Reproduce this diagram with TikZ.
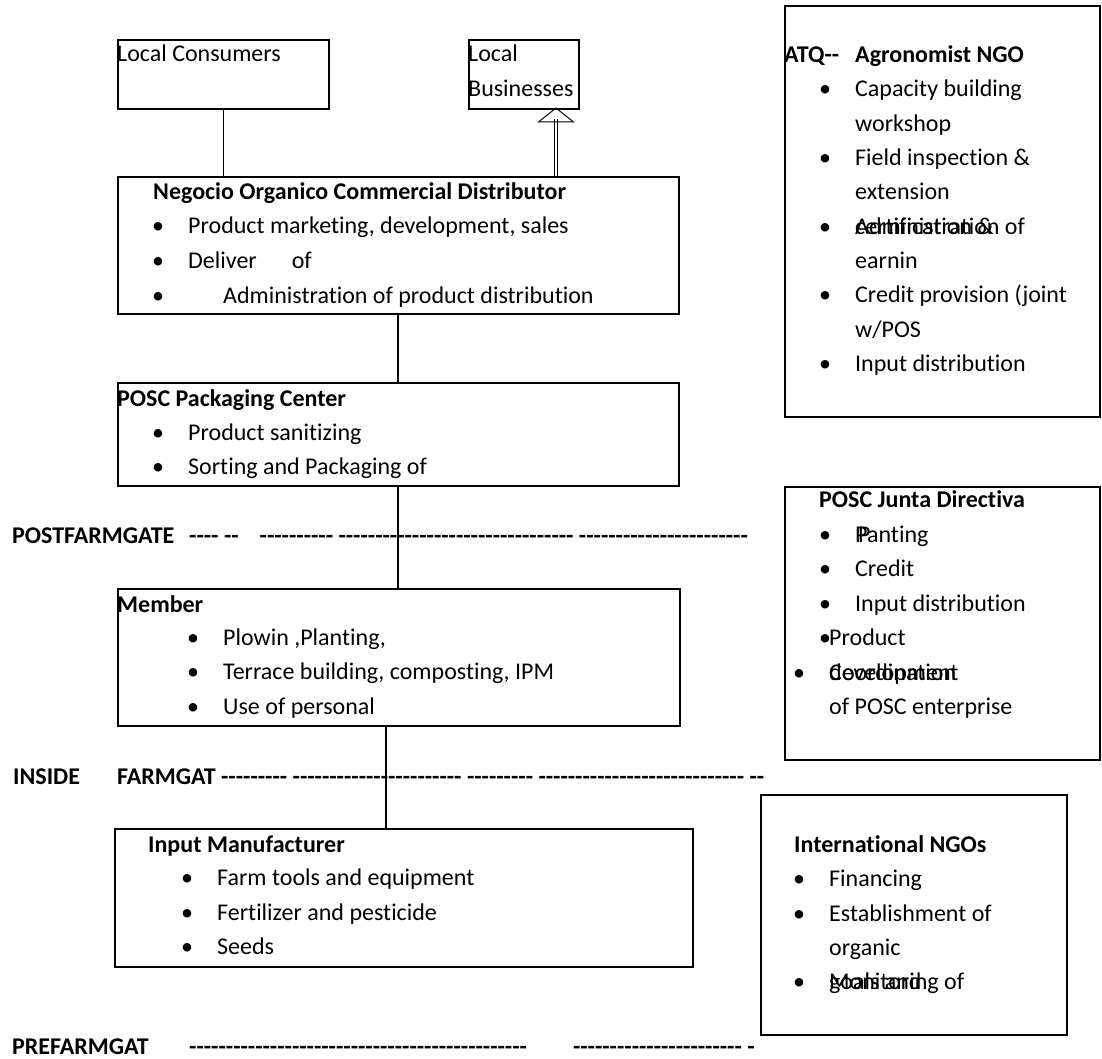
\documentclass[tikz,border=0pt]{standalone}
\usepackage{fontspec}
\newfontfamily\calibri{Carlito}[Ligatures=NoCommon]
\newcommand{\bl}{\llap{\makebox[36pt][l]{\textbullet}}}

\begin{document}
\begin{tikzpicture}[
  x=1pt, y=-1pt,
  font=\calibri\fontsize{24}{34.5}\selectfont,
  box/.style={draw, line width=1.6pt, anchor=north west, inner sep=0pt},
  txt/.style={anchor=base west, inner sep=0pt},
  hd/.style={txt, font=\calibri\fontsize{24}{34.5}\selectfont\bfseries},
  link/.style={line width=1.3pt},
  dbl/.style={double, double distance=2.2pt, line width=0.8pt},
]
\useasboundingbox (0,0) rectangle (1102,1059);

\coordinate (spine) at (398,0);
\coordinate (spine2) at (386,0);
\coordinate (tip) at (556,108);
\coordinate (tipin) at (556,119);

% buyers
\node[box, minimum width=211, minimum height=69] (cons) at (117,39) {};
\node[txt] (consT) at (117,62) {Local Consumers};
\node[box, minimum width=110, minimum height=69] (biz) at (468,39) {};
\node[txt] (bizT1) at (468,62) {Local};
\node[txt] (bizT2) at (468,96.5) {Businesses};

% distributor
\node[box, minimum width=561, minimum height=137] (neg) at (117,176) {};
\node[hd] (negT) at (153,200) {Negocio Organico Commercial Distributor};
\node[txt] (neg1) at (188,234) {\bl Product marketing, development, sales};
\node[txt] (neg2) at (188,268.5) {\bl Deliver\hspace{35pt}of};
\node[txt] (neg3) at (223,303) {\llap{\makebox[71pt][l]{\textbullet}}Administration of product distribution};
\draw[link] (cons.south) -- (cons.south |- neg.north);
\draw[dbl] (neg.north -| tip) -- (tipin);
\draw[line width=1pt] (tip) -- ++(-17.5,14) -- ++(35,0) -- cycle;

% packaging
\node[box, minimum width=561, minimum height=103] (pack) at (117,382) {};
\node[hd] (packT) at (117,406) {POSC Packaging Center};
\node[txt] (pack1) at (188,440) {\bl Product sanitizing};
\node[txt] (pack2) at (188,474.5) {\bl Sorting and Packaging of};
\draw[link] (neg.south -| spine) -- (pack.north -| spine);

\node[hd] (post) at (12,543) {POSTFARMGATE};
\node[hd] (postD) at (189,543) {---- --\hspace{21pt}---------- -------------------------------- -----------------------};

% member
\node[box, minimum width=562, minimum height=137] (mem) at (117,588) {};
\node[hd] (memT) at (117,612) {Member};
\node[txt] (mem1) at (223,645) {\bl Plowin ,Planting,};
\node[txt] (mem2) at (223,679.5) {\bl Terrace building, composting, IPM};
\node[txt] (mem3) at (223,714) {\bl Use of personal};
\draw[link] (pack.south -| spine) -- (mem.north -| spine);

\node[hd] (ins) at (13,784) {INSIDE};
\node[hd] (farm) at (117,784) {FARMGAT --------- ----------------------- --------- ---------------------------- --};

% inputs
\node[box, minimum width=578, minimum height=138] (inp) at (114,828) {};
\node[hd] (inpT) at (148,852) {Input Manufacturer};
\node[txt] (inp1) at (217,885.5) {\bl Farm tools and equipment};
\node[txt] (inp2) at (217,920) {\bl Fertilizer and pesticide};
\node[txt] (inp3) at (217,954) {\bl Seeds};
\draw[link] (mem.south -| spine2) -- (inp.north -| spine2);

\node[hd] (pre) at (12,1054) {PREFARMGAT};
\node[hd] (preD) at (189,1054) {----------------------------------------------\hspace{46pt}----------------------- -};

% support organisations
\node[box, minimum width=315, minimum height=411] (atq) at (784,5) {};
\node[hd] (atqT) at (784,63) {ATQ--};
\node[hd] (atqN) at (855,63) {Agronomist NGO};
\node[txt] (atq1) at (855,97) {\bl Capacity building};
\node[txt] (atq2) at (855,131.3) {workshop};
\node[txt] (atq3) at (855,165.6) {\bl Field inspection \&};
\node[txt] (atq4) at (855,199.9) {extension};
\node[txt] (atq5) at (855,234.2) {\bl\rlap{certification \&}Administration of};
\node[txt] (atq6) at (855,268.5) {earnin};
\node[txt] (atq7) at (855,302.8) {\bl Credit provision (joint};
\node[txt] (atq8) at (855,337.1) {w/POS};
\node[txt] (atq9) at (855,371.4) {\bl Input distribution};

\node[box, minimum width=315, minimum height=273] (junta) at (784,486) {};
\node[hd] (juntaT) at (819,507) {POSC Junta Directiva};
\node[txt] (junta1) at (855,542) {\bl\rlap{\kern3pt P}Panting};
\node[txt] (junta2) at (855,576.5) {\bl Credit};
\node[txt] (junta3) at (855,611) {\bl Input distribution};
\node[txt] (junta4) at (829,645.5) {\llap{\makebox[10pt][l]{\textbullet}}Product};
\node[txt] (junta5) at (829,680) {\bl\rlap{development}Coordination};
\node[txt] (junta6) at (829,714.5) {of POSC enterprise};

\node[box, minimum width=306, minimum height=240] (ngo) at (760,794) {};
\node[hd] (ngoT) at (794,852) {International NGOs};
\node[txt] (ngo1) at (829,886.5) {\bl Financing};
\node[txt] (ngo2) at (829,921) {\bl Establishment of};
\node[txt] (ngo3) at (829,955) {organic};
\node[txt] (ngo4) at (829,989) {\bl\rlap{goals and}Monitoring of};

\end{tikzpicture}
\end{document}
